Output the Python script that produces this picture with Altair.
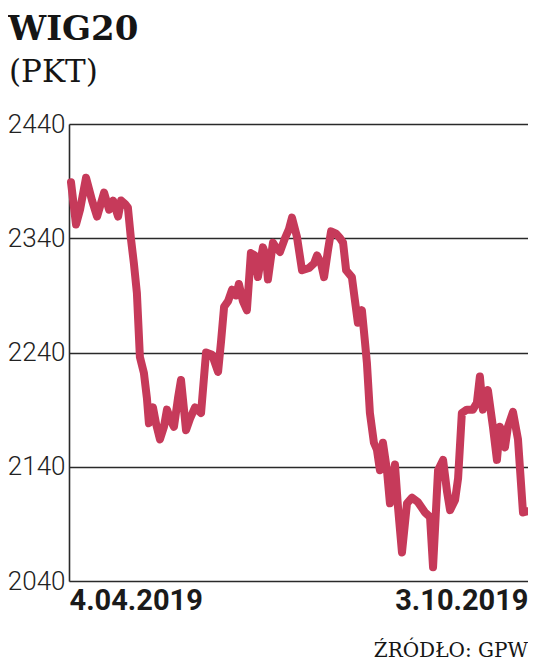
import altair as alt
import pandas as pd

# Days since 4.04.2019 and WIG20 closing levels
days = [0, 2.0, 3.6, 6.0, 8.4, 10.4, 13.2, 15.2, 16.8, 18.8, 20.0, 21.6, 22.7, 23.9, 25.1,
        26.3, 27.5, 29.1, 30.3, 31.1, 32.7, 33.9, 35.5, 37.1, 38.3, 39.9, 41.1, 42.7, 43.9,
        45.1, 45.9, 47.5, 49.5, 51.9, 53.9, 56.3, 58.7, 59.9, 61.1, 62.7, 64.3, 65.9, 67.0,
        68.6, 70.2, 71.8, 73.4, 74.6, 76.6, 77.8, 78.6, 80.6, 81.8, 83.4, 85.4, 87.0, 88.2,
        90.2, 92.2, 95.0, 97.0, 98.2, 99.8, 101.0, 102.6, 103.8, 105.8, 107.4, 108.6, 109.8,
        112.1, 113.3, 114.5, 116.1, 117.3, 118.1, 119.3, 120.9, 122.1, 123.3, 124.5, 126.1,
        127.3, 129.3, 130.5, 132.1, 134.1, 136.1, 138.5, 141.3, 143.3, 144.5, 146.5, 148.5,
        150.1, 151.3, 153.3, 154.5, 156.0, 158.0, 160.4, 162.0, 163.2, 164.4, 166.4, 168.4,
        170.0, 171.2, 173.2, 174.4, 176.4, 178.4, 180.4, 182.0]
values = [2389, 2352, 2365, 2393, 2373, 2359, 2380, 2365, 2373, 2359, 2373, 2370, 2367, 2340, 2318,
          2292, 2236, 2222, 2200, 2178, 2192, 2178, 2164, 2175, 2190, 2180, 2175, 2200, 2216,
          2190, 2172, 2182, 2192, 2187, 2240, 2238, 2223, 2250, 2280, 2285, 2295, 2290, 2300,
          2285, 2277, 2327, 2325, 2306, 2332, 2325, 2304, 2336, 2332, 2328, 2340, 2348, 2358,
          2341, 2312, 2314, 2318, 2325, 2318, 2306, 2330, 2346, 2344, 2340, 2336, 2312,
          2306, 2286, 2266, 2277, 2250, 2231, 2187, 2161, 2155, 2137, 2161, 2137,
          2108, 2142, 2105, 2065, 2108, 2113, 2109, 2100, 2096, 2052, 2137, 2146,
          2118, 2102, 2111, 2130, 2187, 2190, 2190, 2196, 2219, 2190, 2207, 2175,
          2146, 2175, 2157, 2175, 2188, 2164, 2100, 2101]

y_ticks = [2040, 2140, 2240, 2340, 2440]
x_tick_days = [-0.8, 182.4]
x_tick_labels = ["4.04.2019", "3.10.2019"]
title_text = "WIG20"
unit_text = "(PKT)"
source_text = "ŹRÓDŁO: GPW"

df = pd.DataFrame({"day": days, "value": values})

W, H = 459, 457
LINE_COLOR = "#c63a5a"

label_expr = f"datum.value < 90 ? '{x_tick_labels[0]}' : '{x_tick_labels[1]}'"

line = alt.Chart(df).mark_line(
    color=LINE_COLOR, strokeWidth=8, strokeJoin="round", strokeCap="round"
).encode(
    x=alt.X("day:Q",
            scale=alt.Scale(domain=[x_tick_days[0], x_tick_days[1]], nice=False, zero=False),
            axis=alt.Axis(values=x_tick_days, labelExpr=label_expr, title=None, grid=False,
                          domain=False, ticks=False, labelFlush=True,
                          labelFont="Roboto", labelFontWeight="bold",
                          labelFontSize=29, labelColor="#1a1a1a", labelPadding=5)),
    y=alt.Y("value:Q",
            scale=alt.Scale(domain=[2040, 2440], nice=False, zero=False),
            axis=alt.Axis(values=y_ticks, format="d", title=None, grid=True,
                          gridColor="#2a2a2a", gridWidth=1.6, gridOpacity=1,
                          domain=True, domainColor="#2a2a2a", domainWidth=1.6,
                          ticks=False, labelFont="Roboto", labelFontWeight=300,
                          labelFontSize=26, labelColor="#222222", labelPadding=4,
                          labelBaseline="middle")),
)

title = alt.Chart(pd.DataFrame({"t": [title_text]})).mark_text(
    align="left", baseline="alphabetic", font="DejaVu Serif", fontWeight="bold",
    fontSize=34, color="#151515"
).encode(x=alt.value(-61), y=alt.value(-84), text="t:N")

unit = alt.Chart(pd.DataFrame({"t": [unit_text]})).mark_text(
    align="left", baseline="alphabetic", font="DejaVu Serif",
    fontSize=31, color="#151515"
).encode(x=alt.value(-60), y=alt.value(-42), text="t:N")

source = alt.Chart(pd.DataFrame({"t": [source_text]})).mark_text(
    align="right", baseline="alphabetic", font="DejaVu Serif",
    fontSize=20, color="#151515"
).encode(x=alt.value(W), y=alt.value(H + 76), text="t:N")

chart = alt.layer(line, title, unit, source).properties(
    width=W, height=H,
    autosize=alt.AutoSizeParams(type="none"),
    padding={"left": 61, "top": 116, "right": 0, "bottom": 81},
).configure_view(stroke=None).configure(background="white")

chart.save("out.html", embed_options={"renderer": "svg", "actions": False})
